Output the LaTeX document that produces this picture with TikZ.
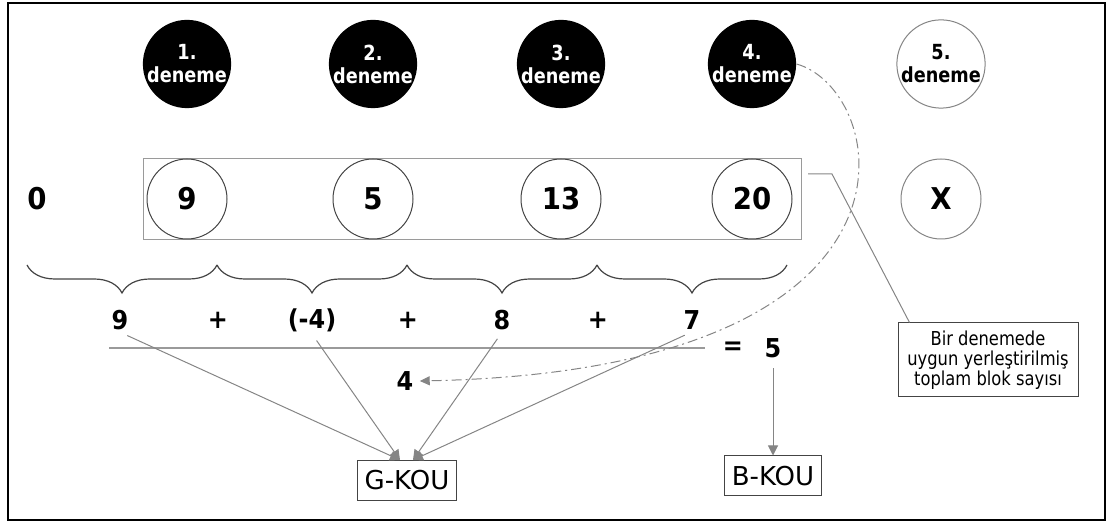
\documentclass[tikz,border=0pt]{standalone}
\usepackage{fontspec}
\setmainfont{DejaVu Sans}
\newfontfamily\dvc[FakeStretch=0.85]{DejaVu Sans}
\newfontfamily\dvn[FakeStretch=0.92]{DejaVu Sans}
\usetikzlibrary{arrows.meta,decorations.pathreplacing}
\definecolor{lg}{HTML}{9A9A9A}
\definecolor{mg}{HTML}{858585}
\definecolor{cdark}{HTML}{444444}
\begin{document}
\begin{tikzpicture}[x=0.5pt,y=-0.5pt,
  trial/.style={circle,fill=black,minimum size=40.5pt,inner sep=0pt,text=white,align=center,
    font=\dvc\bfseries\fontsize{10.4}{11.5}\selectfont},
  trialopen/.style={trial,fill=white,draw=mg,line width=0.5pt,text=black},
  valc/.style={circle,draw=cdark,line width=0.5pt,minimum size=40pt,inner sep=0pt,
    font=\dvn\bfseries\fontsize{15}{16}\selectfont},
  big/.style={inner sep=1pt,font=\dvn\bfseries\fontsize{15}{16}\selectfont},
  sumt/.style={inner sep=1pt,font=\dvn\bfseries\fontsize{13}{14}\selectfont},
  lab/.style={draw=cdark,line width=0.5pt,inner xsep=3.5pt,minimum height=20pt,
    font=\fontsize{13}{14}\selectfont},
  note/.style={draw=cdark,line width=0.5pt,minimum width=90pt,minimum height=37pt,inner sep=1pt,
    align=center,font=\dvc\fontsize{9.6}{10}\selectfont},
  feed/.style={draw=lg,line width=0.5pt,shorten <=4pt,-{Triangle[length=5pt,width=5pt]},mg},
  brc/.style={decorate,decoration={brace,mirror,amplitude=14pt},draw=cdark,line width=0.6pt},
  dashdot/.style={draw=mg,line width=0.5pt,dash pattern=on 5pt off 2pt on 1pt off 2pt,
    -{Triangle[length=5pt,width=4.5pt]}}
]
\useasboundingbox (0,0) rectangle (1109,522);
\draw[line width=0.8pt] (8,3) rectangle (1105,520);

% trial circles
\node[trial] (t1) at (187,64) {1.\\deneme};
\node[trial] (t2) at (373,64) {2.\\deneme};
\node[trial] (t3) at (561,64) {3.\\deneme};
\node[trial] (t4) at (752,64) {4.\\deneme};
\node[trialopen] (t5) at (941,64) {5.\\deneme};

% value row
\node[big] (z) at (37,199) {0};
\node[draw=lg,line width=0.5pt,minimum width=329pt,minimum height=40.5pt,inner sep=0pt] (rect) at (472,199.5) {};
\node[valc] (v1) at (187,199) {9};
\node[valc] (v2) at (373,199) {5};
\node[valc] (v3) at (561,199) {13};
\node[valc] (v4) at (752,199) {20};
\node[valc,draw=mg] (v5) at (941,199) {X};

% braces
\coordinate (b0) at (27,265);
\coordinate (b1) at (217,265);
\coordinate (b2) at (407,265);
\coordinate (b3) at (597,265);
\coordinate (b4) at (787,265);
\draw[brc] (b0) -- (b1);
\draw[brc] (b1) -- (b2);
\draw[brc] (b2) -- (b3);
\draw[brc] (b3) -- (b4);

% differences
\node[sumt] (d1) at (120,320) {9};
\node[sumt] (p1) at (218,320) {+};
\node[sumt] (d2) at (312,320) {(-4)};
\node[sumt] (p2) at (408,320) {+};
\node[sumt] (d3) at (502,320) {8};
\node[sumt] (p3) at (598,320) {+};
\node[sumt] (d4) at (692,320) {7};

\coordinate (hl) at (109,348);
\coordinate (hr) at (705,348);
\draw[lg,line width=1pt] (hl) -- (hr);

\node[sumt] (eq) at (733,348) {=};
\node[sumt] (res) at (773,348) {5};
\node[sumt] (four) at (405,381) {4};

% labels
\node[lab] (g) at (407,480.5) {G-KOU};
\node[lab] (b) at (773,476) {B-KOU};
\node[note] (nt) at (988,360) {Bir denemede\\uygun yerleştirilmiş\\toplam blok sayısı};

% arrows to G-KOU
\draw[feed] (d1.south) -- ([xshift=-3.5pt]g.north);
\draw[feed] (d2.south) -- ([xshift=-3.5pt]g.north);
\draw[feed] (d3.south) -- ([xshift=3pt]g.north);
\draw[feed] (d4.south) -- ([xshift=3pt]g.north);
\draw[feed] (res.south) -- (b.north);

% callout
\coordinate (c1) at (808,174);
\coordinate (c2) at (832,174);
\draw[mg,line width=0.5pt] (c1) -- (c2) -- ([xshift=6pt]nt.north west);

% dash-dot curve
\draw[dashdot] (t4.east) .. controls (890,90) and (950,370) .. ([xshift=2pt]four.east);
\end{tikzpicture}
\end{document}
